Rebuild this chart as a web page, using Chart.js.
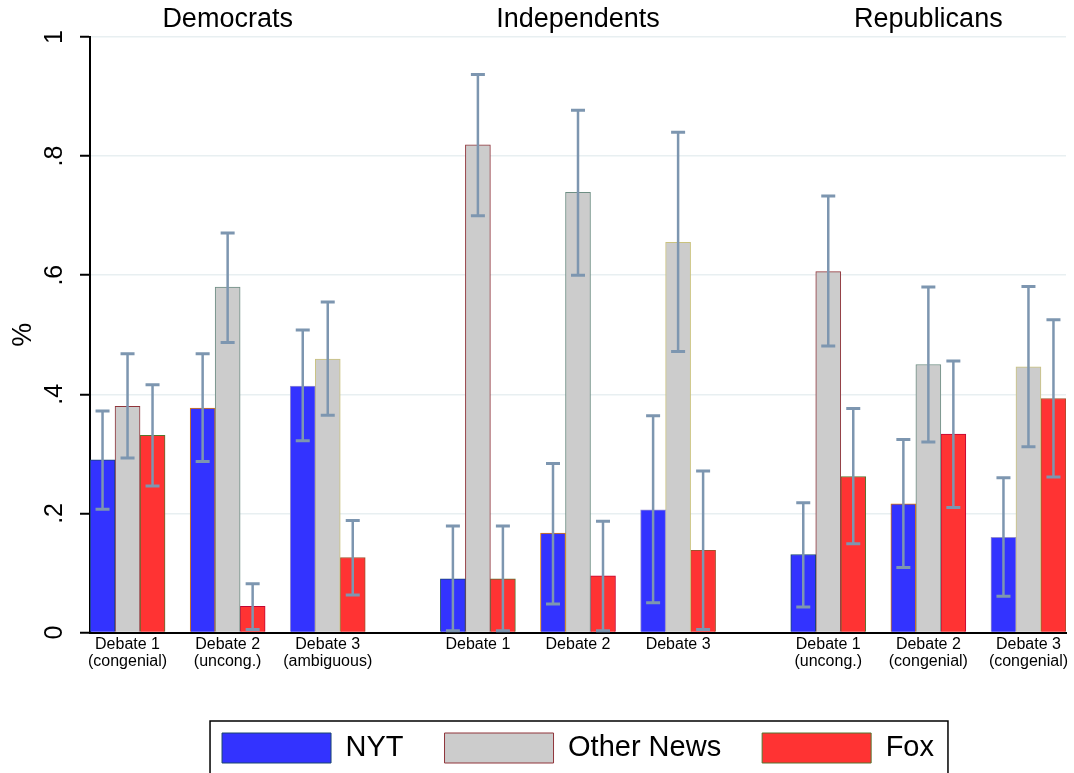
<!DOCTYPE html>
<html>
<head>
<meta charset="utf-8">
<script src="https://cdn.jsdelivr.net/npm/chart.js@4/dist/chart.umd.min.js"></script>
<style>
  html, body { margin: 0; padding: 0; background: #fff; }
  canvas { display: block; }
</style>
</head>
<body>
<canvas id="chart" width="1074" height="773"></canvas>
<script>
// Panels and debate categories
const panels = ['Democrats', 'Independents', 'Republicans'];
const debateLabels = [
  ['Debate 1', '(congenial)'], ['Debate 2', '(uncong.)'], ['Debate 3', '(ambiguous)'],
  ['Debate 1'], ['Debate 2'], ['Debate 3'],
  ['Debate 1', '(uncong.)'], ['Debate 2', '(congenial)'], ['Debate 3', '(congenial)']
];
const yTickLabels = ['0', '.2', '.4', '.6', '.8', '1'];
const seriesNames = ['NYT', 'Other News', 'Fox'];

// Shares with confidence interval bounds, one entry per debate
const nytShare  = [0.290, 0.377, 0.414, 0.090, 0.167, 0.206, 0.131, 0.216, 0.160];
const nytLow    = [0.207, 0.287, 0.322, 0.003, 0.048, 0.050, 0.043, 0.109, 0.061];
const nytHigh   = [0.372, 0.468, 0.508, 0.179, 0.284, 0.364, 0.218, 0.324, 0.260];

const otherShare = [0.380, 0.580, 0.459, 0.819, 0.739, 0.655, 0.606, 0.450, 0.446];
const otherLow   = [0.293, 0.487, 0.365, 0.700, 0.600, 0.472, 0.481, 0.320, 0.312];
const otherHigh  = [0.468, 0.671, 0.555, 0.937, 0.877, 0.840, 0.733, 0.580, 0.581];

const foxShare = [0.331, 0.044, 0.126, 0.090, 0.095, 0.138, 0.262, 0.333, 0.393];
const foxLow   = [0.246, 0.005, 0.063, 0.003, 0.003, 0.005, 0.149, 0.210, 0.261];
const foxHigh  = [0.416, 0.082, 0.188, 0.179, 0.187, 0.271, 0.376, 0.456, 0.525];

// x layout: three debates per panel, a wider gap between panels
const PANEL_STEP = 3.5;
const xPos = debateLabels.map((_, i) => Math.floor(i / 3) * PANEL_STEP + (i % 3));
const panelCentres = panels.map((_, g) => g * PANEL_STEP + 1);
const X_MIN = -0.375;
const X_MAX = 2 * PANEL_STEP + 2 + 0.375;

const FONT = "'Liberation Sans', Arial, Helvetica, sans-serif";
const fills = ['#3333ff', '#cccccc', '#ff3333'];
// outline colours cycle through the nine bars of a panel
const outlines = ['#1a476f', '#90353b', '#55752f', '#e37e00', '#6e8e84', '#c10534', '#938dd2', '#cac27e', '#a0522d'];
const ciColour = '#7d96b0';

function makeSeries(s, share, low, high) {
  return {
    label: seriesNames[s],
    data: share.map((v, i) => ({ x: xPos[i], y: v })),
    low: low,
    high: high,
    backgroundColor: fills[s],
    borderColor: share.map((_, i) => outlines[(i % 3) * 3 + s]),
    borderWidth: 1,
    barThickness: 25
  };
}

const errorBars = {
  id: 'errorBars',
  afterDatasetsDraw(chart) {
    const { ctx } = chart;
    const yScale = chart.scales.y;
    ctx.save();
    ctx.strokeStyle = ciColour;
    ctx.lineCap = 'butt';
    chart.data.datasets.forEach((ds, d) => {
      const meta = chart.getDatasetMeta(d);
      meta.data.forEach((bar, i) => {
        const lo = yScale.getPixelForValue(ds.low[i]);
        const hi = yScale.getPixelForValue(ds.high[i]);
        const x = bar.x;
        ctx.lineWidth = 2.5;
        ctx.beginPath();
        ctx.moveTo(x, lo); ctx.lineTo(x, hi);
        ctx.stroke();
        ctx.lineWidth = 3;
        ctx.beginPath();
        ctx.moveTo(x - 7, lo); ctx.lineTo(x + 7, lo);
        ctx.moveTo(x - 7, hi); ctx.lineTo(x + 7, hi);
        ctx.stroke();
      });
    });
    ctx.restore();
  }
};

// frame around the legend row
const legendFrame = {
  id: 'legendFrame',
  afterDraw(chart) {
    const boxes = chart.legend && chart.legend.legendHitBoxes;
    if (!boxes || !boxes.length) return;
    const first = boxes[0], last = boxes[boxes.length - 1];
    const left = first.left - 12;
    const top = first.top - 12;
    const right = last.left + last.width + 14;
    const { ctx } = chart;
    ctx.save();
    ctx.strokeStyle = '#000';
    ctx.lineWidth = 1.5;
    ctx.strokeRect(left, top, right - left, chart.height + 10 - top);
    ctx.restore();
  }
};

new Chart(document.getElementById('chart'), {
  type: 'bar',
  data: {
    datasets: [
      makeSeries(0, nytShare, nytLow, nytHigh),
      makeSeries(1, otherShare, otherLow, otherHigh),
      makeSeries(2, foxShare, foxLow, foxHigh)
    ]
  },
  options: {
    responsive: false,
    animation: false,
    devicePixelRatio: 1,
    layout: { padding: { left: 0, right: 8, top: 0, bottom: 0 } },
    scales: {
      x: {
        type: 'linear',
        position: 'bottom',
        min: X_MIN,
        max: X_MAX,
        offset: false,
        grid: { display: false, drawTicks: false },
        border: { display: true, color: '#000', width: 2 },
        afterBuildTicks: s => { s.ticks = xPos.map(v => ({ value: v })); },
        ticks: {
          autoSkip: false, minRotation: 0, maxRotation: 0, padding: 3.5,
          color: '#000', font: { family: FONT, size: 16, lineHeight: 1.08 },
          callback: (v, i) => debateLabels[i]
        },
        afterFit: s => { s.height = 59.5; }
      },
      x2: {
        type: 'linear',
        position: 'top',
        min: X_MIN,
        max: X_MAX,
        offset: false,
        grid: { display: false, drawTicks: false },
        border: { display: false },
        afterBuildTicks: s => { s.ticks = panelCentres.map(v => ({ value: v })); },
        ticks: {
          autoSkip: false, minRotation: 0, maxRotation: 0, padding: 1,
          color: '#000', font: { family: FONT, size: 27, lineHeight: 1.2 },
          callback: (v, i) => panels[i]
        },
        afterFit: s => { s.height = 37; }
      },
      y: {
        min: 0,
        max: 1,
        ticks: {
          stepSize: 0.2, minRotation: 90, maxRotation: 90, crossAlign: 'center', padding: 14,
          color: '#000', font: { family: FONT, size: 25 },
          callback: (v, i) => yTickLabels[i]
        },
        grid: {
          color: c => (c.tick && c.tick.value === 0 ? 'rgba(0,0,0,0)' : '#e8eff1'),
          lineWidth: 1.5, tickColor: '#000', tickLength: 10, tickWidth: 2
        },
        border: { color: '#000', width: 2 },
        title: {
          display: true, text: '%', color: '#000',
          font: { family: FONT, size: 27 }, padding: { top: 7.4, bottom: 0 }
        },
        afterFit: s => { s.width = 90; }
      }
    },
    plugins: {
      tooltip: { enabled: false },
      legend: {
        position: 'bottom',
        fullSize: false,
        labels: {
          boxWidth: 109, boxHeight: 30, padding: 41,
          color: '#000', font: { family: FONT, size: 29 },
          generateLabels: chart => {
            const items = Chart.defaults.plugins.legend.labels.generateLabels(chart);
            items.forEach((it, k) => { it.strokeStyle = outlines[k]; it.lineWidth = 1; });
            return items;
          }
        }
      }
    }
  },
  plugins: [errorBars, legendFrame]
});
</script>
</body>
</html>
